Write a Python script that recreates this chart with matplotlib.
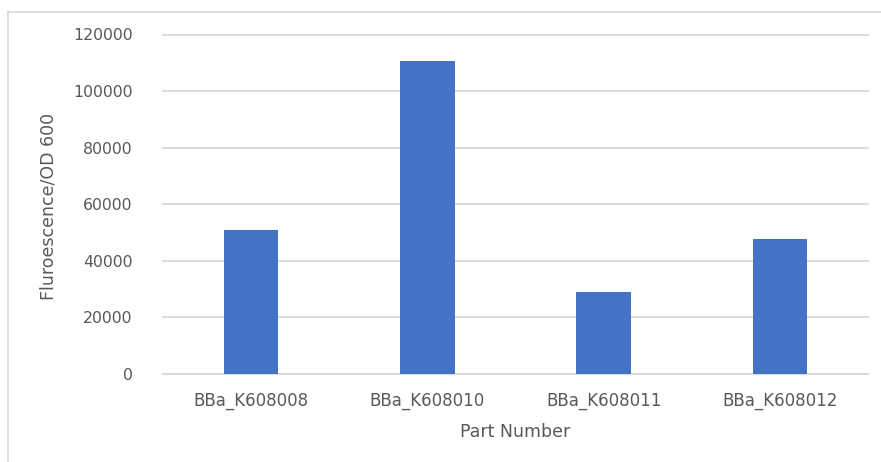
import numpy as np
import matplotlib
matplotlib.use("Agg")
import matplotlib.pyplot as plt
from matplotlib.lines import Line2D

parts = ["BBa_K608008", "BBa_K608010", "BBa_K608011", "BBa_K608012"]
fluor = [50800, 110500, 28900, 47700]
yticks = [0, 20000, 40000, 60000, 80000, 100000, 120000]

plt.rcParams['font.family'] = ['DejaVu Sans']
txt = '#595959'
grid = '#d9d9d9'

fig = plt.figure(figsize=(8.81, 4.62), dpi=100)
ax = fig.add_axes([163/881, 1-374/462, (868-163)/881, (374-34.5)/462])

x = np.arange(len(parts))
ax.bar(x, fluor, width=0.31, color='#4472C4', zorder=3)

ax.set_xlim(-0.5, len(parts)-0.5)
ax.set_ylim(0, 120000)
ax.set_yticks(yticks)
ax.set_yticklabels([str(v) for v in yticks])
ax.set_xticks(x)
ax.set_xticklabels(parts)
ax.yaxis.grid(True, color=grid, lw=1.3, zorder=0)
for gl in ax.get_ygridlines():
    gl.set_clip_on(False)
ax.tick_params(axis='both', length=0, colors=txt)
ax.tick_params(axis='y', pad=22, labelsize=11.3)
ax.tick_params(axis='x', pad=13, labelsize=12)
for s in ['top', 'right', 'left']:
    ax.spines[s].set_visible(False)
ax.spines['bottom'].set_color(grid)
ax.spines['bottom'].set_linewidth(1.3)

ax.set_xlabel('Part Number', color=txt, fontsize=12.5, labelpad=9)
fig.text(49/881, 1-206/462, 'Fluroescence/OD 600', rotation=90, color=txt,
         fontsize=12.5, ha='center', va='center')

# chart frame
fig.add_artist(Line2D([8/881, 1], [1-12/462, 1-12/462], color=grid, lw=1.2))
fig.add_artist(Line2D([8/881, 8/881], [0, 1-12/462], color=grid, lw=1.2))

fig.savefig('out.png', dpi=100)
